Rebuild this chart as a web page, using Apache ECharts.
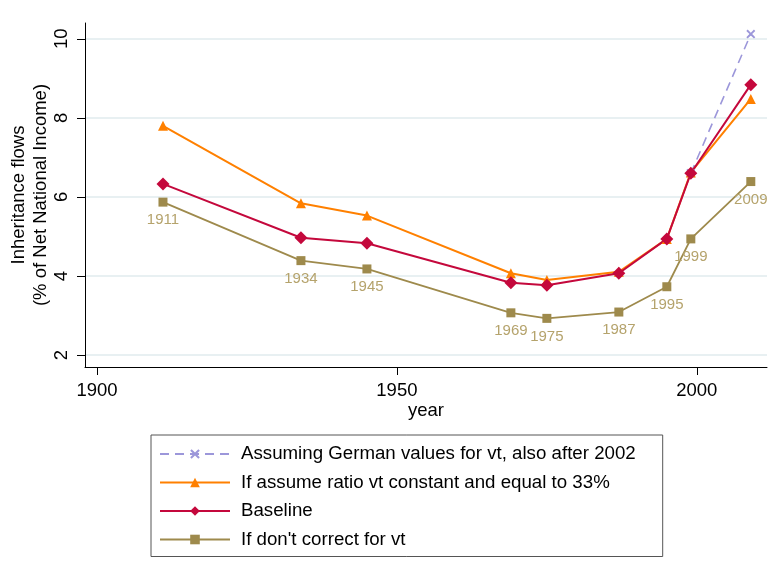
<!DOCTYPE html>
<html>
<head>
<meta charset="utf-8">
<script src="https://cdn.jsdelivr.net/npm/echarts@6/dist/echarts.min.js"></script>
<style>
  html, body { margin: 0; padding: 0; background: #fff; }
  #chart { width: 777px; height: 583px; }
</style>
</head>
<body>
<div id="chart"></div>
<script>
// survey years and values (% of net national income)
var years = [1911, 1934, 1945, 1969, 1975, 1987, 1995, 1999, 2009];
var germanVt = [null, null, null, null, null, null, null, 6.6, 10.12];
var ratio33 = [7.8, 5.84, 5.53, 4.07, 3.9, 4.11, 4.94, 6.62, 8.48];
var baseline = [6.33, 4.97, 4.83, 3.83, 3.77, 4.07, 4.94, 6.6, 8.84];
var noCorrect = [5.87, 4.39, 4.18, 3.07, 2.93, 3.09, 3.73, 4.94, 6.39];
var xTicks = [1900, 1950, 2000];
var yTicks = [2, 4, 6, 8, 10];

function pairs(vals) {
  return years.map(function (y, i) {
    return vals[i] == null ? null : [y, vals[i]];
  }).filter(function (d) { return d; });
}

var font = "Liberation Sans, Arial, sans-serif";
var xMark = "path://M1.5,0 L5,3.5 L8.5,0 L10,1.5 L6.5,5 L10,8.5 L8.5,10 L5,6.5 L1.5,10 L0,8.5 L3.5,5 L0,1.5 Z";

var chart = echarts.init(document.getElementById("chart"));
chart.setOption({
  animation: false,
  backgroundColor: "#fff",
  textStyle: { fontFamily: font },
  grid: { left: 85, right: 10, top: 23, bottom: 216, containLabel: false, outerBoundsMode: "none" },
  xAxis: {
    type: "value",
    min: 1898,
    max: 2011.7,
    name: "year",
    nameLocation: "middle",
    nameGap: 34,
    nameMoveOverlap: false,
    nameTextStyle: { fontSize: 18.5, color: "#000", fontFamily: font },
    axisLine: { lineStyle: { color: "#000", width: 1 } },
    axisTick: { show: true, length: 8, customValues: xTicks, lineStyle: { color: "#000" } },
    axisLabel: {
      customValues: xTicks, margin: 14, fontSize: 18.5, color: "#000", fontFamily: font,
      formatter: function (v) { return String(v); }
    },
    splitLine: { show: false }
  },
  yAxis: {
    type: "value",
    min: 1.7,
    max: 10.4,
    name: "Inheritance flows\n(% of Net National Income)",
    nameLocation: "middle",
    nameRotate: 90,
    nameGap: 33,
    nameMoveOverlap: false,
    nameTextStyle: { fontSize: 18.5, lineHeight: 22, color: "#000", fontFamily: font },
    axisLine: { show: true, lineStyle: { color: "#000", width: 1 } },
    axisTick: { show: true, length: 8, customValues: yTicks, lineStyle: { color: "#000" } },
    axisLabel: { customValues: yTicks, rotate: 90, margin: 14, fontSize: 18.5, color: "#000", fontFamily: font },
    splitLine: { show: true, lineStyle: { color: "#e8f0f2", width: 2 } }
  },
  legend: {
    orient: "vertical",
    left: 151,
    top: 435,
    borderColor: "#555",
    borderWidth: 1,
    padding: [9, 27, 7, 8],
    itemWidth: 70,
    itemHeight: 12,
    itemGap: 8.5,
    textStyle: { fontSize: 18.7, lineHeight: 20, color: "#000", fontFamily: font, padding: [0, 0, 0, 6] },
    data: [
      "Assuming German values for vt, also after 2002",
      "If assume ratio vt constant and equal to 33%",
      "Baseline",
      "If don't correct for vt"
    ]
  },
  series: [
    {
      name: "Assuming German values for vt, also after 2002",
      type: "line",
      data: pairs(germanVt),
      symbol: xMark,
      symbolSize: 9,
      itemStyle: { color: "#9c97da" },
      lineStyle: { color: "#9c97da", width: 1.6, type: [9, 6] }
    },
    {
      name: "If assume ratio vt constant and equal to 33%",
      type: "line",
      data: pairs(ratio33),
      symbol: "triangle",
      symbolSize: 10,
      itemStyle: { color: "#ff8000" },
      lineStyle: { color: "#ff8000", width: 2 }
    },
    {
      name: "Baseline",
      type: "line",
      data: pairs(baseline),
      symbol: "diamond",
      symbolSize: 13,
      itemStyle: { color: "#c4083c" },
      lineStyle: { color: "#c4083c", width: 2 }
    },
    {
      name: "If don't correct for vt",
      type: "line",
      data: pairs(noCorrect),
      symbol: "rect",
      symbolSize: 9,
      itemStyle: { color: "#9e8a4c" },
      lineStyle: { color: "#9e8a4c", width: 1.8 },
      label: {
        show: true,
        position: "bottom",
        distance: 6,
        fontSize: 15,
        color: "#b5a36c",
        fontFamily: font,
        formatter: function (p) { return String(p.value[0]); }
      }
    }
  ]
});
</script>
</body>
</html>
